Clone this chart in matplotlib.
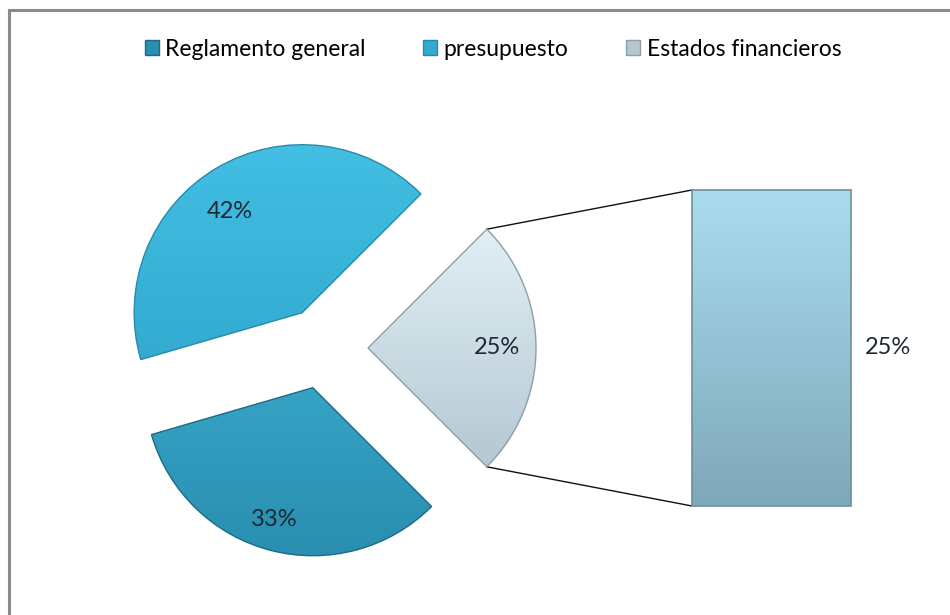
"""
Bar-of-pie chart: share of topics (Reglamento general / presupuesto /
Estados financieros), with the last slice broken out into a bar.
"""

import numpy as np
import matplotlib.pyplot as plt
from matplotlib.colors import to_rgb
from matplotlib.patches import Patch, Wedge

# data, in pie order (counter-clockwise from -45 deg)
LABELS = ["Estados financieros", "presupuesto", "Reglamento general"]
VALUES = [25, 42, 33]
BAR_VALUE = 25
LEGEND_ORDER = ["Reglamento general", "presupuesto", "Estados financieros"]

# styling
TOP = {"Estados financieros": "#e2eff5", "presupuesto": "#42bfe3",
       "Reglamento general": "#35a3c5"}
BOT = {"Estados financieros": "#b4c8d2", "presupuesto": "#34aad0",
       "Reglamento general": "#2a8eb0"}
EDGE = {"Estados financieros": "#8b9fa9", "presupuesto": "#2a8aa8",
        "Reglamento general": "#1f6a84"}
EXPLODE = [45, 41, 41]          # pixel offsets of each slice
PCT_DIST = [0.77, 0.74, 0.815]  # label distance from slice tip, x radius
PCT_TURN = [0, 5, -2]           # small angular nudge of the labels (deg)

W, H = 950, 615
plt.rcParams["font.family"] = ["Lato", "DejaVu Sans"]

fig = plt.figure(figsize=(W / 100, H / 100), dpi=100)
ax = fig.add_axes([0, 0, 1, 1])

cx, cy, r = 323, H - 348, 168
wedges, _ = ax.pie(VALUES, startangle=-45, counterclock=True, explode=EXPLODE,
                   center=(cx, cy), radius=r, frame=True,
                   wedgeprops=dict(linewidth=0))
ax.set_xlim(0, W)
ax.set_ylim(0, H)
ax.set_aspect("equal")
ax.axis("off")

# chart frame (only top/left visible in the crop)
ax.plot([9, 9, W + 5], [-5, H - 10, H - 10], color="#8a8a8a", lw=2.2,
        solid_joinstyle="miter")


def grad_img(top, bot):
    t = np.linspace(0, 1, 256)[:, None]
    c0, c1 = np.array(to_rgb(top)), np.array(to_rgb(bot))
    return (c0 * (1 - t) + c1 * t)[:, None, :]


for w, lab, d, turn in zip(wedges, LABELS, PCT_DIST, PCT_TURN):
    w.set_facecolor(TOP[lab])
    wx, wy = w.center
    bb = w.get_path().get_extents()
    im = ax.imshow(grad_img(TOP[lab], BOT[lab]),
                   extent=(bb.x0, bb.x1, bb.y0, bb.y1), origin="upper",
                   aspect="auto", zorder=2)
    im.set_clip_path(w)
    ax.add_patch(Wedge(w.center, r, w.theta1, w.theta2, facecolor="none",
                       edgecolor=EDGE[lab], lw=1.0, zorder=3))
    mid = np.deg2rad((w.theta1 + w.theta2) / 2 + turn)
    pct = 100 * (w.theta2 - w.theta1) / 360
    ax.text(wx + d * r * np.cos(mid), wy + d * r * np.sin(mid),
            f"{pct:.0f}%", ha="center", va="center", fontsize=17,
            color="#1c2833", zorder=4)

# bar for the broken-out slice
bx0, bx1, by0, by1 = 692, 851, H - 506, H - 190
bax = fig.add_axes([bx0 / W, by0 / H, (bx1 - bx0) / W, (by1 - by0) / H])
bax.set_xlim(-0.5, 0.5)
bax.set_ylim(0, BAR_VALUE)
bax.axis("off")
bar = bax.bar([0], [BAR_VALUE], width=1.0, color="#9ccde0", lw=0)[0]
im = bax.imshow(grad_img("#aadcef", "#7fa8b9"),
                extent=(-0.5, 0.5, 0, BAR_VALUE), origin="upper",
                aspect="auto", zorder=3)
im.set_clip_path(bar)
bax.bar([0], [BAR_VALUE], width=1.0, color="none", edgecolor="#6a909f",
        lw=1.2, zorder=4, clip_on=False)
bax.text(0.5 + 0.23, BAR_VALUE / 2, f"{BAR_VALUE}%", ha="center",
         va="center", fontsize=17, color="#1c2833", clip_on=False)

# connector lines from the slice to the bar
w0 = wedges[0]
for ang, by in [(w0.theta2, by1), (w0.theta1, by0)]:
    a = np.deg2rad(ang)
    px = w0.center[0] + r * np.cos(a)
    py = w0.center[1] + r * np.sin(a)
    ax.plot([px, bx0], [py, by], color="#111111", lw=1.0, zorder=1)

handles = [Patch(facecolor=BOT[l], edgecolor=EDGE[l], label=l)
           for l in LEGEND_ORDER]
fig.legend(handles=handles, loc="center", bbox_to_anchor=(493 / W, 1 - 49 / H),
           ncol=3, frameon=False, fontsize=16.5, handlelength=0.6,
           handleheight=0.6, handletextpad=0.3, columnspacing=2.5,
           borderpad=0)

fig.savefig("out.png", dpi=100)
